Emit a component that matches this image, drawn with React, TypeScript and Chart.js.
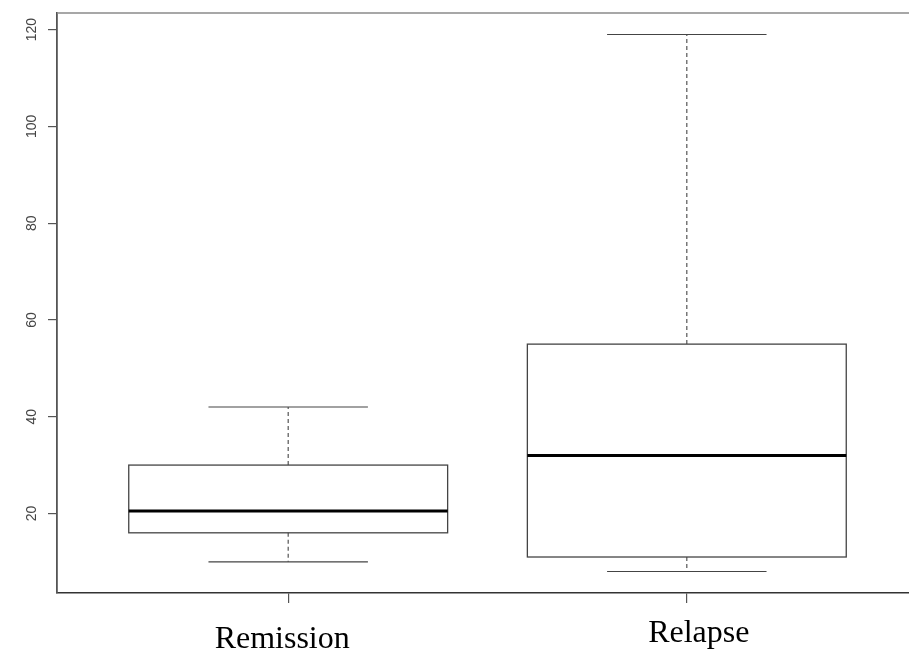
import React, { useEffect, useRef } from "react";
import { Chart, registerables } from "chart.js";

Chart.register(...registerables);

// ---- data ----
const categories = ["Remission", "Relapse"];
const whiskerLow = [10, 8];
const q1 = [16, 11];
const median = [20.5, 32];
const q3 = [30, 55];
const whiskerHigh = [42, 119];
const yTicks = [20, 40, 60, 80, 100, 120];

// ---- style constants ----
const BOX_HALF = 0.4;
const CAP_HALF = 0.2;
const LABEL_SHIFT_X = [-6, 12];
const LABEL_DROP = [55, 49];

const boxPlugin = {
  id: "boxes",
  afterDatasetsDraw(chart: any) {
    const ctx = chart.ctx;
    const xs = chart.scales.x;
    const ys = chart.scales.y;
    const area = chart.chartArea;
    ctx.save();
    // top/right frame line
    ctx.strokeStyle = "#8a8a8a";
    ctx.lineWidth = 1.6;
    ctx.beginPath();
    ctx.moveTo(area.left, area.top);
    ctx.lineTo(area.right, area.top);
    ctx.lineTo(area.right, area.bottom);
    ctx.stroke();

    categories.forEach((_, i) => {
      const pos = i + 1;
      const cx = xs.getPixelForValue(pos);
      const bl = xs.getPixelForValue(pos - BOX_HALF);
      const br = xs.getPixelForValue(pos + BOX_HALF);
      const cl = xs.getPixelForValue(pos - CAP_HALF);
      const cr = xs.getPixelForValue(pos + CAP_HALF);
      const yLo = ys.getPixelForValue(whiskerLow[i]);
      const yQ1 = ys.getPixelForValue(q1[i]);
      const yMed = ys.getPixelForValue(median[i]);
      const yQ3 = ys.getPixelForValue(q3[i]);
      const yHi = ys.getPixelForValue(whiskerHigh[i]);

      // whiskers (dashed)
      ctx.strokeStyle = "#555";
      ctx.lineWidth = 1.2;
      ctx.setLineDash([4, 3]);
      ctx.beginPath();
      ctx.moveTo(cx, yQ3);
      ctx.lineTo(cx, yHi);
      ctx.moveTo(cx, yQ1);
      ctx.lineTo(cx, yLo);
      ctx.stroke();
      ctx.setLineDash([]);

      // caps
      ctx.strokeStyle = "#444";
      ctx.lineWidth = 1.2;
      ctx.beginPath();
      ctx.moveTo(cl, yHi);
      ctx.lineTo(cr, yHi);
      ctx.moveTo(cl, yLo);
      ctx.lineTo(cr, yLo);
      ctx.stroke();

      // box
      ctx.strokeStyle = "#444";
      ctx.lineWidth = 1.3;
      ctx.strokeRect(bl, yQ3, br - bl, yQ1 - yQ3);

      // median
      ctx.strokeStyle = "#000";
      ctx.lineWidth = 3;
      ctx.beginPath();
      ctx.moveTo(bl, yMed);
      ctx.lineTo(br, yMed);
      ctx.stroke();

      // category label
      ctx.fillStyle = "#000";
      ctx.font = '32px "Liberation Serif", "Times New Roman", serif';
      ctx.textAlign = "center";
      ctx.textBaseline = "alphabetic";
      ctx.fillText(categories[i], cx + LABEL_SHIFT_X[i], area.bottom + LABEL_DROP[i]);
    });

    // rotated y tick labels
    ctx.fillStyle = "#444";
    ctx.font = '14px "Liberation Sans", Arial, sans-serif';
    ctx.textAlign = "center";
    ctx.textBaseline = "middle";
    yTicks.forEach((v) => {
      const y = ys.getPixelForValue(v);
      ctx.save();
      ctx.translate(area.left - 25, y);
      ctx.rotate(-Math.PI / 2);
      ctx.fillText(String(v), 0, 0);
      ctx.restore();
    });
    ctx.restore();
  },
};

export default function App() {
  const ref = useRef<HTMLCanvasElement>(null);
  useEffect(() => {
    if (!ref.current) return;
    const chart = new Chart(ref.current, {
      type: "scatter",
      data: { datasets: [{ data: [], pointRadius: 0 }] },
      options: {
        animation: false,
        responsive: false,
        events: [],
        layout: { padding: { top: 13, right: 12, left: 0, bottom: 0 } },
        plugins: { legend: { display: false }, tooltip: { enabled: false } },
        scales: {
          x: {
            type: "linear",
            min: 0.42,
            max: 2.58,
            afterBuildTicks: (s: any) => {
              s.ticks = categories.map((_, i) => ({ value: i + 1 }));
            },
            afterFit: (s: any) => {
              s.height = 62;
            },
            grid: { drawOnChartArea: false, drawTicks: true, tickLength: 10, color: "#555", lineWidth: 1.2 },
            border: { display: true, color: "#333", width: 1.5 },
            ticks: { display: false },
          },
          y: {
            type: "linear",
            min: 3.56,
            max: 123.44,
            afterBuildTicks: (s: any) => {
              s.ticks = yTicks.map((v) => ({ value: v }));
            },
            afterFit: (s: any) => {
              s.width = 57;
            },
            grid: { drawOnChartArea: false, drawTicks: true, tickLength: 9, color: "#555", lineWidth: 1.2 },
            border: { display: true, color: "#555", width: 1.8 },
            ticks: { display: false },
          },
        },
      },
      plugins: [boxPlugin],
    });
    return () => chart.destroy();
  }, []);
  return (
    <div style={{ position: "absolute", left: 0, top: 0, width: 909, height: 655, overflow: "hidden", background: "#fff" }}>
      <canvas ref={ref} width={930} height={655} style={{ display: "block" }} />
    </div>
  );
}
